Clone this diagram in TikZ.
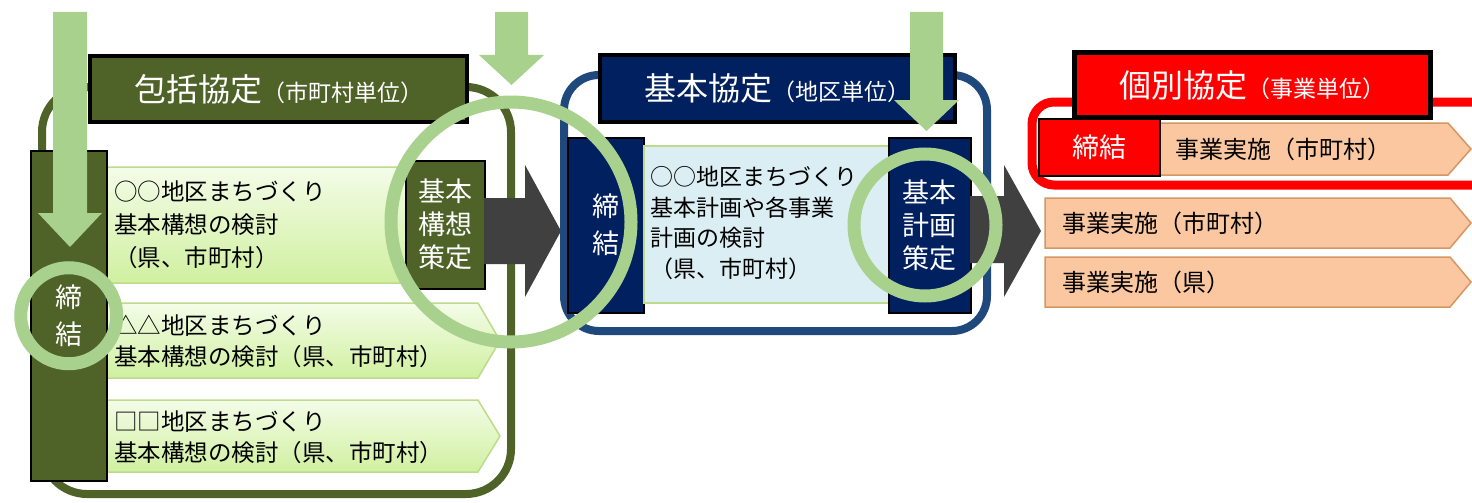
\documentclass[tikz,border=0pt]{standalone}
\usepackage{fontspec}
\setmainfont{Noto Sans CJK JP}
\usetikzlibrary{positioning}
\definecolor{kgreen}{RGB}{79,98,40}
\definecolor{knavy}{RGB}{0,32,96}
\definecolor{kblue}{RGB}{31,73,125}
\definecolor{kred}{RGB}{255,0,0}
\definecolor{kmark}{RGB}{169,209,142}
\definecolor{kgray}{RGB}{64,64,64}
\definecolor{kpaleblue}{RGB}{219,238,244}
\definecolor{kpaleline}{RGB}{190,218,140}
\definecolor{kpaletop}{RGB}{244,252,232}
\definecolor{kpalebottom}{RGB}{208,240,160}
\definecolor{kpeach}{RGB}{250,199,160}
\definecolor{kpeachline}{RGB}{214,150,100}
\newcommand{\bigtitle}{\fontsize{32}{36}\selectfont}
\newcommand{\subtitle}{\fontsize{23}{28}\selectfont}
\tikzstyle{group}=[
	rounded corners=45,
	line width=8
]
\tikzstyle{title}=[
	draw=black,
	line width=4,
	text=white,
	inner sep=0pt,
	anchor=north west
]
\tikzstyle{sealbar}=[
	draw=black,
	line width=1.5,
	text=white,
	inner sep=0pt,
	anchor=north west,
	align=center,
	font=\fontsize{27}{37}\selectfont
]
\tikzstyle{planbox}=[
	draw=kpaleline,
	line width=1.5,
	top color=kpaletop,
	bottom color=kpalebottom
]
\tikzstyle{workbox}=[
	draw=kpeachline,
	line width=1.5,
	fill=kpeach
]
\tikzstyle{plantext}=[
	inner sep=0pt,
	anchor=west,
	align=left,
	font=\fontsize{23.5}{33}\selectfont
]
\tikzstyle{flow}=[
	fill=kgray
]
\tikzstyle{marker}=[
	draw=kmark,
	line width=13
]
\tikzstyle{markarrow}=[
	fill=kmark
]

\begin{document}
\begin{tikzpicture}[x=1pt,y=-1pt]
\useasboundingbox (0,0) rectangle (1472,503);
\clip (0,0) rectangle (1472,503);

\draw[group, draw=kgreen] (42,87) rectangle (511,494);
\node[title, fill=kgreen, minimum width=377, minimum height=66] (HoukatsuTitle) at (88,54) {\bigtitle 包括協定\subtitle （市町村単位）};
\path[planbox] (106,167) -- (450,167) -- (470,225) -- (450,283) -- (106,283) -- cycle;
\path[planbox] (106,303) -- (478,303) -- (500,340.5) -- (478,378) -- (106,378) -- cycle;
\path[planbox] (106,400) -- (478,400) -- (500,436) -- (478,472) -- (106,472) -- cycle;
\node[plantext] (AreaA) at (114,225) {○○地区まちづくり\\基本構想の検討\\（県、市町村）};
\node[plantext, font=\fontsize{23.5}{31}\selectfont] (AreaB) at (114,341) {△△地区まちづくり\\基本構想の検討（県、市町村）};
\node[plantext, font=\fontsize{23.5}{31}\selectfont] (AreaC) at (114,437) {□□地区まちづくり\\基本構想の検討（県、市町村）};
\node[sealbar, fill=kgreen, minimum width=76, minimum height=330] (HoukatsuSeal) at (30,150) {締\\結};
\node[sealbar, fill=kgreen, minimum width=79, minimum height=128, font=\fontsize{27}{33}\selectfont] (Kousou) at (405,160) {基本\\構想\\策定};

\fill[flow] (484,198) -- (525,198) -- (525,165) -- (561,231) -- (525,297) -- (525,264) -- (484,264) -- cycle;

\draw[group, rounded corners=35, draw=kblue] (564,75) rectangle (987,331);
\node[title, fill=knavy, minimum width=355, minimum height=67] (KihonTitle) at (598,53) {\bigtitle 基本協定\subtitle （地区単位）};
\node[sealbar, fill=knavy, minimum width=76, minimum height=175] (ChikuSeal) at (567,137) {締\\結};
\node[draw=kpaleline, line width=1.5, fill=kpaleblue, minimum width=245, minimum height=157, anchor=north west] (ChikuPlan) at (643,145) {};
\node[plantext, font=\fontsize{23}{30.5}\selectfont] (ChikuText) at (650,223) {○○地区まちづくり\\基本計画や各事業\\計画の検討\\（県、市町村）};
\node[sealbar, fill=knavy, minimum width=82, minimum height=175, font=\fontsize{27}{33}\selectfont] (Keikaku) at (888,137) {基本\\計画\\策定};

\fill[flow] (970,196) -- (1004,196) -- (1004,165) -- (1041,231) -- (1004,297) -- (1004,263) -- (970,263) -- cycle;

\draw[group, rounded corners=22, draw=kred, line width=9] (1032,102) rectangle (1530,185);
\node[title, fill=kred, line width=5, minimum width=356, minimum height=65] (KobetsuTitle) at (1072,50) {\bigtitle 個別協定\subtitle （事業単位）};
\path[workbox] (1150,123) -- (1448,123) -- (1471,149) -- (1448,175) -- (1150,175) -- cycle;
\path[workbox] (1045,198) -- (1450,198) -- (1471,223) -- (1450,248) -- (1045,248) -- cycle;
\path[workbox] (1045,257) -- (1450,257) -- (1471,282) -- (1450,307) -- (1045,307) -- cycle;
\node[sealbar, fill=kred, minimum width=121, minimum height=57] (JigyouSeal) at (1038,118) {締結};
\node[plantext, font=\fontsize{24}{30}\selectfont] (WorkA) at (1175,149) {事業実施（市町村）};
\node[plantext, font=\fontsize{24}{30}\selectfont] (WorkB) at (1062,223) {事業実施（市町村）};
\node[plantext, font=\fontsize{24}{30}\selectfont] (WorkC) at (1062,282) {事業実施（県）};

\fill[markarrow] (53,12) -- (87,12) -- (87,213) -- (102,213) -- (70,247) -- (38,213) -- (53,213) -- cycle;
\fill[markarrow] (495,12) -- (528,12) -- (528,55) -- (544,55) -- (511.5,85) -- (479,55) -- (495,55) -- cycle;
\fill[markarrow] (910,12) -- (943,12) -- (943,100) -- (959,100) -- (926.5,131) -- (894,100) -- (910,100) -- cycle;
\draw[marker] (HoukatsuSeal.center) ++(0,0) circle[radius=48];
\draw[marker] (511,222) circle[radius=120];
\draw[marker] (925,225) circle[radius=71];
\end{tikzpicture}
\end{document}
